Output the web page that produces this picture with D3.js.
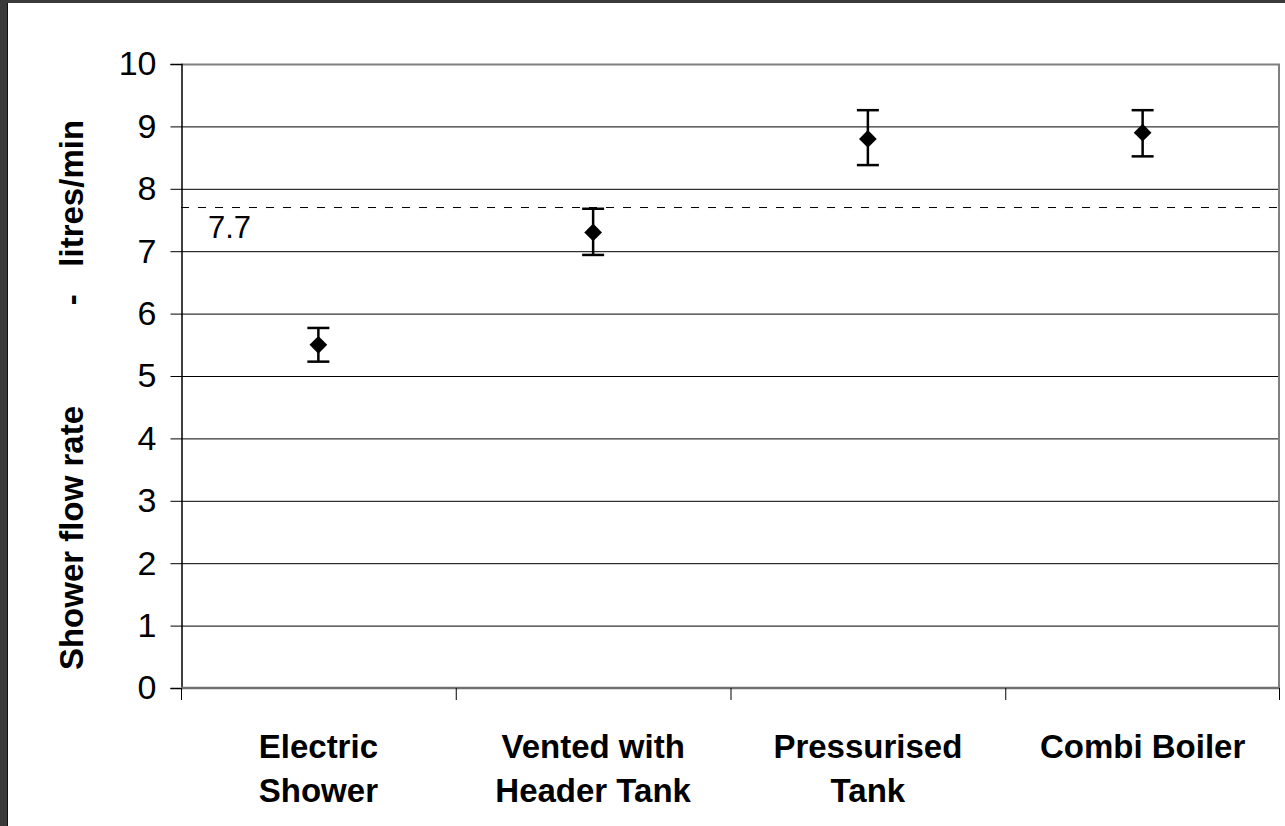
<!DOCTYPE html>
<html>
<head>
<meta charset="utf-8">
<script src="https://cdn.jsdelivr.net/npm/d3@7"></script>
<style>
  html, body { margin: 0; padding: 0; background: #fff; }
  svg { display: block; font-family: "Liberation Sans", Arial, sans-serif; }
</style>
</head>
<body>
<div id="chart"></div>
<script>
var categories = [["Electric", "Shower"], ["Vented with", "Header Tank"], ["Pressurised", "Tank"], ["Combi Boiler"]];
var flowValues = [5.5, 7.3, 8.8, 8.9];
var errLow = [5.23, 6.94, 8.38, 8.52];
var errHigh = [5.77, 7.68, 9.26, 9.26];
var yTicks = [0, 1, 2, 3, 4, 5, 6, 7, 8, 9, 10];
var refValue = 7.7;

function drawChart() {
    var W = 1285, H = 826;
    var margin = {top: 64, right: 5, bottom: 138, left: 181},
        width = W - margin.left - margin.right,
        height = H - margin.top - margin.bottom;

    var svg = d3.select("#chart").append("svg")
        .attr("width", W)
        .attr("height", H);

    // window frame
    svg.append("rect").attr("x", 0).attr("y", 0).attr("width", W).attr("height", 3).attr("fill", "#3a3a3a");
    svg.append("rect").attr("x", 0).attr("y", 0).attr("width", 7).attr("height", H).attr("fill", "#3a3a3a");
    svg.append("rect").attr("x", 7).attr("y", 3).attr("width", 1).attr("height", H).attr("fill", "#111");

    var g = svg.append("g")
        .attr("transform", "translate(" + margin.left + "," + margin.top + ")");

    var x = d3.scaleBand()
        .domain(d3.range(categories.length))
        .range([0, width])
        .padding(0);
    var y = d3.scaleLinear()
        .domain([0, 10])
        .range([height, 0]);

    // gridlines
    g.selectAll(".grid")
        .data(yTicks.filter(function (t) { return t > 0 && t < 10; }))
        .enter().append("line")
        .attr("x1", 0).attr("x2", width)
        .attr("y1", function (d) { return y(d) + 0.5; })
        .attr("y2", function (d) { return y(d) + 0.5; })
        .attr("stroke", "#000")
        .attr("stroke-width", 1);

    // plot border top / right
    g.append("line").attr("x1", 0).attr("x2", width).attr("y1", 0.5).attr("y2", 0.5)
        .attr("stroke", "#808080").attr("stroke-width", 2);
    g.append("line").attr("x1", width - 1).attr("x2", width - 1).attr("y1", 0).attr("y2", height)
        .attr("stroke", "#808080").attr("stroke-width", 2);

    // reference line
    g.append("line")
        .attr("x1", 0).attr("x2", width)
        .attr("y1", y(refValue)).attr("y2", y(refValue))
        .attr("stroke", "#000")
        .attr("stroke-width", 1)
        .attr("stroke-dasharray", "8,9");
    g.append("text")
        .attr("x", 27)
        .attr("y", y(refValue) + 30)
        .attr("font-size", "31px")
        .attr("fill", "#000")
        .text(refValue);

    // y axis
    var yAxis = g.append("g")
        .attr("transform", "translate(0.5,0)")
        .call(d3.axisLeft(y).tickValues(yTicks).tickSize(11).tickPadding(14).tickFormat(d3.format("d")));
    yAxis.select(".domain").attr("stroke", "#000").attr("stroke-width", 1.5);
    yAxis.selectAll(".tick line").attr("stroke", "#000");
    yAxis.selectAll(".tick text").attr("font-size", "34px").attr("fill", "#000")
        .attr("font-family", "Liberation Sans, Arial, sans-serif");

    // x axis
    var xAxis = g.append("g")
        .attr("transform", "translate(0," + height + ")");
    xAxis.append("line").attr("x1", 0).attr("x2", width).attr("y1", 0).attr("y2", 0)
        .attr("stroke", "#707070").attr("stroke-width", 2.5);
    xAxis.selectAll(".xtick")
        .data(d3.range(categories.length + 1))
        .enter().append("line")
        .attr("x1", function (d) { return d < categories.length ? x(d) + 0.5 : width - 0.5; })
        .attr("x2", function (d) { return d < categories.length ? x(d) + 0.5 : width - 0.5; })
        .attr("y1", 0).attr("y2", 12)
        .attr("stroke", "#000");
    var labels = xAxis.selectAll(".xlabel")
        .data(categories)
        .enter().append("text")
        .attr("text-anchor", "middle")
        .attr("font-size", "33px")
        .attr("font-weight", "bold")
        .attr("fill", "#000")
        .attr("transform", function (d, i) { return "translate(" + (x(i) + x.bandwidth() / 2) + ",70)"; });
    labels.selectAll("tspan")
        .data(function (d) { return d; })
        .enter().append("tspan")
        .attr("x", 0)
        .attr("y", function (d, i) { return i * 44; })
        .text(function (d) { return d; });

    // y title
    svg.append("text")
        .attr("transform", "translate(83," + 395 + ") rotate(-90)")
        .attr("text-anchor", "middle")
        .attr("font-size", "33px")
        .attr("font-weight", "bold")
        .attr("fill", "#000")
        .style("white-space", "pre")
        .text("Shower flow rate           -   litres/min");

    // error bars
    var bars = g.selectAll(".err")
        .data(flowValues)
        .enter().append("g")
        .attr("transform", function (d, i) { return "translate(" + (x(i) + x.bandwidth() / 2) + ",0)"; });
    bars.append("line")
        .attr("x1", 0).attr("x2", 0)
        .attr("y1", function (d, i) { return y(errHigh[i]); })
        .attr("y2", function (d, i) { return y(errLow[i]); })
        .attr("stroke", "#000").attr("stroke-width", 2.5);
    bars.append("line")
        .attr("x1", -11).attr("x2", 11)
        .attr("y1", function (d, i) { return y(errHigh[i]); })
        .attr("y2", function (d, i) { return y(errHigh[i]); })
        .attr("stroke", "#000").attr("stroke-width", 2.5);
    bars.append("line")
        .attr("x1", -11).attr("x2", 11)
        .attr("y1", function (d, i) { return y(errLow[i]); })
        .attr("y2", function (d, i) { return y(errLow[i]); })
        .attr("stroke", "#000").attr("stroke-width", 2.5);
    bars.append("path")
        .attr("d", d3.symbol().type(d3.symbolDiamond2).size(200)())
        .attr("transform", function (d) { return "translate(0," + y(d) + ")"; })
        .attr("fill", "#000");
}

drawChart();
</script>
</body>
</html>
